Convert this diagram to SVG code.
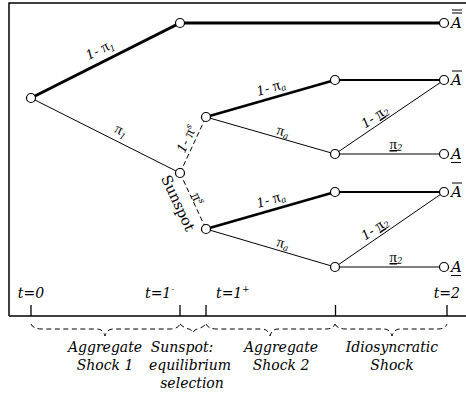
<svg xmlns="http://www.w3.org/2000/svg" width="466" height="397" viewBox="0 0 466 397">
<style>
.t{font-family:"DejaVu Serif","Liberation Serif",serif;font-style:italic;font-size:14px;fill:#000}
.e{font-family:"DejaVu Serif","Liberation Serif",serif;font-style:italic;font-size:13px;fill:#000}
.p{font-family:"Liberation Serif",serif;font-style:normal;font-size:15px}
.s{font-size:8.5px}
.a{font-family:"DejaVu Serif","Liberation Serif",serif;font-style:italic;font-size:15px;fill:#000}
.sun{font-family:"DejaVu Serif","Liberation Serif",serif;font-size:14.5px;fill:#000}
.ln{stroke:#000;fill:none}
.dash{stroke:#000;fill:none;stroke-width:1;stroke-dasharray:5,3}
.br{stroke:#000;fill:none;stroke-width:1;stroke-dasharray:5,3.5}
.nd{fill:#fff;stroke:#000;stroke-width:1.2}
</style>
<rect width="466" height="397" fill="#fff"/>
<g id="frame">
<path class="ln" stroke-width="1.5" d="M9,316 V3 H466"/>
<path class="ln" stroke-width="1.5" d="M9,316 H466"/>
<path class="ln" stroke-width="1.3" d="M31,305 V316 M180,305 V316 M206,305 V316 M335.5,305 V316 M447,305 V316"/>
</g>
<g id="connectors">
<path class="ln" stroke-width="3" d="M31,98 L180,23 L444,23"/>
<path class="ln" stroke-width="1" d="M31,98 L180,173"/>
<path class="dash" d="M180,173 L206,117 M180,173 L206,229"/>
<path class="ln" stroke-width="2.5" d="M206,117 L335,80 M206,229 L335,192"/>
<path class="ln" stroke-width="2" d="M335,80 H444 M335,192 H444"/>
<path class="ln" stroke-width="1" d="M206,117 L335,154 M206,229 L335,267 M335,154 L444,80 M335,267 L444,192 M335,154 H444 M335,267 H444"/>
</g>
<g id="braces">
<path class="br" d="M31,324 Q33,329 42,329 L97,329 Q103,329 105,336 Q107,329 113,329 L170,329 Q178,329 180,324"/>
<path class="br" d="M180,324 Q184,328 189,329 Q192,330 193,333 Q194,330 197,329 Q202,328 206,324"/>
<path class="br" d="M206,324 Q208,329 217,329 L262,329 Q268,329 270,336 Q272,329 278,329 L326,329 Q333,329 335,324"/>
<path class="br" d="M335,324 Q337,329 346,329 L384,329 Q390,329 392,336 Q394,329 400,329 L438,329 Q445,329 447,324"/>
</g>
<g id="nodes">
<circle id="n0" class="nd" cx="31" cy="98" r="4.5"/>
<circle id="n1" class="nd" cx="180" cy="23" r="4.5"/>
<circle id="n2" class="nd" cx="180" cy="173" r="4.5"/>
<circle id="n3" class="nd" cx="206" cy="117" r="4.5"/>
<circle id="n4" class="nd" cx="206" cy="229" r="4.5"/>
<circle id="n5" class="nd" cx="335" cy="80" r="4.5"/>
<circle id="n6" class="nd" cx="335" cy="154" r="4.5"/>
<circle id="n7" class="nd" cx="335" cy="192" r="4.5"/>
<circle id="n8" class="nd" cx="335" cy="267" r="4.5"/>
<circle id="n9" class="nd" cx="444" cy="23" r="4.5"/>
<circle id="n10" class="nd" cx="444" cy="80" r="4.5"/>
<circle id="n11" class="nd" cx="444" cy="154" r="4.5"/>
<circle id="n12" class="nd" cx="444" cy="192" r="4.5"/>
<circle id="n13" class="nd" cx="444" cy="267" r="4.5"/>
</g>
<g id="terminal-labels">
<text class="a" x="451" y="28">A</text>
<text class="a" x="451" y="85">A</text>
<text class="a" x="451" y="159">A</text>
<text class="a" x="451" y="197">A</text>
<text class="a" x="451" y="272">A</text>
<path class="ln" stroke-width="1.2" d="M452,10 H462 M452,13 H462 M452,71 H462 M452,183 H462 M451,162.5 H461 M451,275.5 H461"/>
</g>
<g id="edge-labels">
<text class="e" text-anchor="middle" transform="translate(100,50) rotate(-26.7)" y="4">1- <tspan class="p">π</tspan><tspan class="s" dy="3">1</tspan></text>
<text class="e" text-anchor="middle" transform="translate(121,131) rotate(26.7)" y="4"><tspan class="p">π</tspan><tspan class="s" dy="3">1</tspan></text>
<text class="e" text-anchor="middle" transform="translate(187,139) rotate(-65)" y="4">1- <tspan class="p">π</tspan><tspan class="s" dy="-5">s</tspan></text>
<text class="e" text-anchor="middle" transform="translate(197,199) rotate(65)" y="4"><tspan class="p">π</tspan><tspan class="s" dy="-5">s</tspan></text>
<text class="sun" text-anchor="middle" transform="translate(178,203) rotate(65)" y="5">Sunspot</text>
<text class="e" text-anchor="middle" transform="translate(271,88) rotate(-16)" y="4">1- <tspan class="p">π</tspan><tspan class="s" dy="2">a</tspan></text>
<text class="e" text-anchor="middle" transform="translate(271,200) rotate(-16)" y="4">1- <tspan class="p">π</tspan><tspan class="s" dy="2">a</tspan></text>
<text class="e" text-anchor="middle" transform="translate(283,132) rotate(16)" y="4"><tspan class="p">π</tspan><tspan class="s" dy="2">a</tspan></text>
<text class="e" text-anchor="middle" transform="translate(283,244) rotate(16)" y="4"><tspan class="p">π</tspan><tspan class="s" dy="2">a</tspan></text>
<text class="e" text-anchor="middle" transform="translate(375,117) rotate(-34)" y="4">1- <tspan class="p" text-decoration="underline">π</tspan><tspan class="s" dy="2">2</tspan></text>
<text class="e" text-anchor="middle" transform="translate(375,229) rotate(-34)" y="4">1- <tspan class="p" text-decoration="underline">π</tspan><tspan class="s" dy="2">2</tspan></text>
<text class="e" text-anchor="middle" x="396" y="149"><tspan class="p" text-decoration="underline">π</tspan><tspan class="s" dy="2">2</tspan></text>
<text class="e" text-anchor="middle" x="396" y="262"><tspan class="p" text-decoration="underline">π</tspan><tspan class="s" dy="2">2</tspan></text>
</g>
<g id="axis-labels">
<text class="t" x="31" y="298" text-anchor="middle">t=0</text>
<text class="t" x="145" y="298">t=1<tspan class="s" dy="-6">-</tspan></text>
<text class="t" x="216" y="298">t=1<tspan class="s" dy="-6">+</tspan></text>
<text class="t" x="460" y="298" text-anchor="end">t=2</text>
<text class="t" x="105" y="352" text-anchor="middle">Aggregate</text>
<text class="t" x="105" y="370" text-anchor="middle">Shock 1</text>
<text class="t" x="182" y="352" text-anchor="middle">Sunspot:</text>
<text class="t" x="190" y="370" text-anchor="middle">equilibrium</text>
<text class="t" x="192" y="388" text-anchor="middle">selection</text>
<text class="t" x="281" y="352" text-anchor="middle">Aggregate</text>
<text class="t" x="281" y="370" text-anchor="middle">Shock 2</text>
<text class="t" x="392" y="352" text-anchor="middle">Idiosyncratic</text>
<text class="t" x="392" y="370" text-anchor="middle">Shock</text>
</g>
</svg>
